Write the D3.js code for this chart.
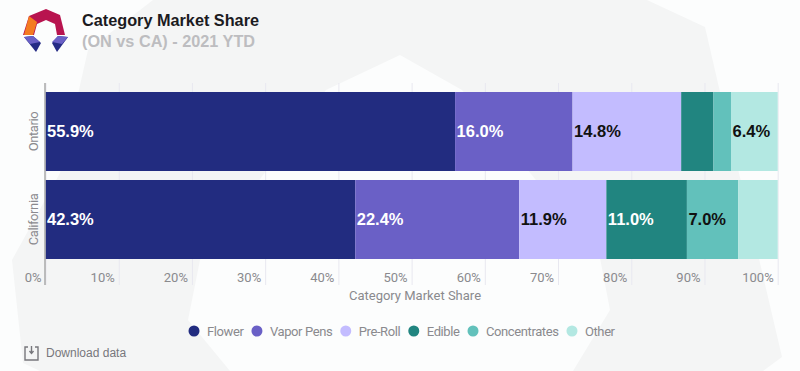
<!DOCTYPE html>
<html>
<head>
<meta charset="utf-8">
<script src="https://cdn.jsdelivr.net/npm/d3@7"></script>
<style>
  html, body { margin: 0; padding: 0; background: #fcfdfd; overflow: hidden; }
  svg { display: block; }
  text { font-family: "Liberation Sans", Arial, sans-serif; }
  .soft { font-family: Roboto, sans-serif; font-size: 13px; fill: #8a8a8e; }
  .tight { letter-spacing: -0.4px; }
</style>
</head>
<body>
<div id="chart"></div>
<script>
// chart data
const regions = ["Ontario", "California"];
const categories = ["Flower", "Vapor Pens", "Pre-Roll", "Edible", "Concentrates", "Other"];
const ontarioShare = [55.94, 16.04, 14.84, 4.4, 2.4, 6.38];
const californiaShare = [42.3, 22.4, 11.9, 11.0, 7.0, 5.4];
const xTicks = [0, 10, 20, 30, 40, 50, 60, 70, 80, 90, 100];
const colors = ["#222c80", "#6a60c6", "#c3bcff", "#218580", "#62c1bb", "#b3e8e2"];
const labelColors = ["#fff", "#fff", "#111", "#fff", "#111", "#111"];

const totalWidth = 800, totalHeight = 371;

let svg = d3.select("#chart").append("svg")
    .attr("width", totalWidth)
    .attr("height", totalHeight);

// background watermark
const line = d3.line();
svg.append("rect").attr("width", totalWidth).attr("height", totalHeight).attr("fill", "#fcfdfd");
svg.append("path")
    .attr("d", line([[153, 0], [647, 0], [705, 27], [720, 92], [782, 357], [763, 371], [573, 371],
        [610, 310], [600, 258], [462, 90], [400, 55], [326, 90], [200, 260], [188, 320], [230, 371],
        [40, 371], [23, 363], [12, 260], [60, 173], [88, 50]]) + "Z")
    .attr("fill", "#f4f5f5");

// logo
const logo = svg.append("g");
logo.append("path").attr("d", line([[46, 9], [60, 15], [65, 35], [57, 35], [55, 24], [46, 20], [37, 24], [34, 35], [23, 35], [29, 16]]) + "Z").attr("fill", "#b8144f");
logo.append("path").attr("d", line([[29, 16], [37, 22], [33, 35], [24, 35]]) + "Z").attr("fill", "#f47b20");
logo.append("path").attr("d", line([[24, 37], [33, 36], [41, 43], [36, 52]]) + "Z").attr("fill", "#252b85");
logo.append("path").attr("d", line([[24, 37], [33, 36], [40, 42], [30, 44]]) + "Z").attr("fill", "#6a60c6");
logo.append("path").attr("d", line([[68, 37], [58, 36], [52, 43], [57, 52]]) + "Z").attr("fill", "#252b85");
logo.append("path").attr("d", line([[68, 37], [58, 36], [52, 42], [62, 44]]) + "Z").attr("fill", "#6a60c6");

// title
svg.append("text").attr("x", 82).attr("y", 26)
    .attr("font-size", 16.25).attr("font-weight", "bold").attr("fill", "#1b1b1f")
    .text("Category Market Share");
svg.append("text").attr("x", 82).attr("y", 46.5)
    .attr("font-size", 16.25).attr("font-weight", "bold").attr("fill", "#bdbdc0")
    .text("(ON vs CA) - 2021 YTD");

// scales
let x = d3.scaleLinear().domain([0, 100]).range([45.5, 777.7]);
let y = d3.scaleBand().domain(regions).range([92, 259]).paddingInner(9 / 88).paddingOuter(0);

// x axis with the labels sitting left of the grid lines
let xAxis = svg.append("g")
    .attr("transform", "translate(0,83)")
    .call(d3.axisBottom(x).tickValues(xTicks).tickSize(202).tickFormat(d => d + "%"));
xAxis.select(".domain").remove();
xAxis.selectAll("line").attr("stroke", "#e8e8f0").attr("stroke-width", 1);
xAxis.selectAll("text")
    .attr("class", "soft")
    .attr("text-anchor", "end")
    .attr("x", -4.5)
    .attr("y", 199)
    .attr("dy", 0);

// stacked bars
const shares = [ontarioShare, californiaShare];
regions.forEach(function(region, r) {
    let running = 0;
    let stacked = shares[r].map(function(v, i) {
        let d = {value: v, index: i, start: running, end: running + v};
        running += v;
        return d;
    });
    let row = svg.append("g");
    row.selectAll("rect")
        .data(stacked)
        .enter().append("rect")
        .attr("x", d => x(d.start))
        .attr("width", d => x(d.end) - x(d.start))
        .attr("y", y(region))
        .attr("height", y.bandwidth())
        .attr("fill", d => colors[d.index]);
    // narrow segments get no label
    row.selectAll("text")
        .data(stacked.filter(d => d.value >= 6))
        .enter().append("text")
        .attr("x", d => x(d.start) + 1.5)
        .attr("y", y(region) + y.bandwidth() / 2 + 5)
        .attr("font-size", 16.5)
        .attr("font-weight", "bold")
        .attr("fill", d => labelColors[d.index])
        .text(d => d.value.toFixed(1) + "%");
});

// y axis line and region labels
svg.append("line").attr("x1", 45).attr("x2", 45).attr("y1", 83).attr("y2", 285)
    .attr("stroke", "#a8a8a8").attr("stroke-width", 1.5);
svg.selectAll(".region")
    .data(regions)
    .enter().append("text")
    .attr("class", "region soft tight")
    .attr("transform", d => "translate(38," + (y(d) + y.bandwidth() / 2) + ") rotate(-90)")
    .attr("text-anchor", "middle")
    .text(d => d);

// axis title
svg.append("text").attr("class", "soft").attr("x", 415).attr("y", 300)
    .attr("text-anchor", "middle")
    .text("Category Market Share");

// legend
let legendX = 194;
categories.forEach(function(c, i) {
    svg.append("circle").attr("cx", legendX).attr("cy", 331).attr("r", 5.5).attr("fill", colors[i]);
    let t = svg.append("text").attr("class", "soft tight").attr("x", legendX + 13).attr("y", 335.5).text(c);
    legendX += 13 + t.node().getComputedTextLength() + 13.5;
});

// download link
let icon = svg.append("g").attr("fill", "none").attr("stroke", "#77777c").attr("stroke-width", 1.4);
icon.append("path").attr("d", line([[28, 347], [25, 347], [25, 360], [38, 360], [38, 347], [35, 347]]));
icon.append("path").attr("d", line([[31.5, 346], [31.5, 353]]));
icon.append("path").attr("d", line([[29.5, 351], [31.5, 353.5], [33.5, 351]]));
svg.append("text").attr("x", 46).attr("y", 357)
    .attr("font-size", 12).attr("font-weight", 500).attr("font-family", "Inter").attr("fill", "#77777c")
    .text("Download data");
</script>
</body>
</html>
